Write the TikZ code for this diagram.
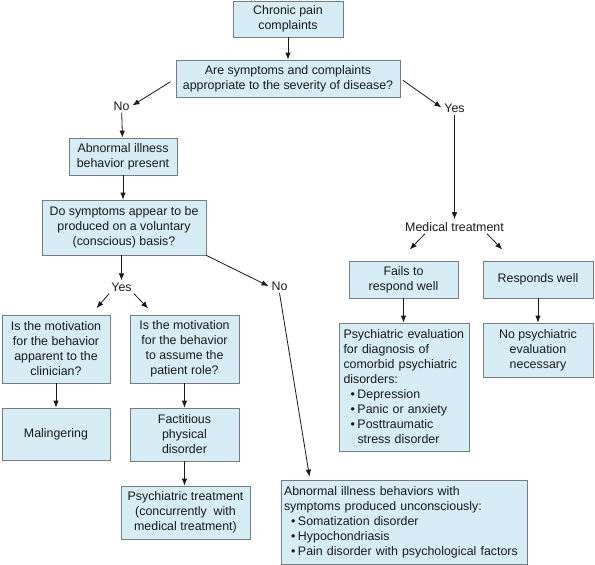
\documentclass[tikz,border=0pt]{standalone}
\usepackage{fontspec}
\setmainfont{Liberation Sans}
\usetikzlibrary{arrows.meta,positioning,calc}
\definecolor{boxfill}{RGB}{214,237,246}
\definecolor{boxline}{RGB}{118,124,130}
\definecolor{ink}{RGB}{25,25,25}
\newcommand{\itm}[1]{\hspace*{7pt}\makebox[7pt][l]{\textbullet}#1}
\newcommand{\cont}[1]{\hspace*{14pt}#1}
\hyphenpenalty=10000

\begin{document}
\begin{tikzpicture}[x=1pt, y=-1pt, font=\fontsize{12.4}{15}\selectfont, text=ink,
box/.style={draw=boxline, fill=boxfill, line width=0.8pt, align=center, inner sep=3pt},
lbl/.style={inner sep=2pt},
arrow/.style={-{Latex[length=7pt,width=5.5pt]}, line width=0.8pt, ink}]
\useasboundingbox (0,0) rectangle (595,565);
% top
\node[box, minimum width=110pt, minimum height=36pt] (cpc) at (288,19) {Chronic pain\\complaints};
\node[box, minimum width=224pt, minimum height=37pt] (appr) at (288,78.5) {Are symptoms and complaints\\appropriate to the severity of disease?};
\node[lbl] (no1) at (121.5,106) {No};
\node[lbl] (yes1) at (454.5,108) {Yes};
% left branch
\node[box, minimum width=108pt, minimum height=37pt] (abn) at (123,156.5) {Abnormal illness\\behavior present};
\node[box, minimum width=164pt, minimum height=55pt] (vol) at (124,227.5) {Do symptoms appear to be\\produced on a voluntary\\(conscious) basis?};
\node[lbl] (yes2) at (121.5,287) {Yes};
\node[lbl] (no2) at (279.5,286.5) {No};
\node[box, minimum width=108pt, minimum height=68pt] (mot1) at (56,349) {Is the motivation\\for the behavior\\apparent to the\\clinician?};
\node[box, minimum width=109pt, minimum height=68pt] (mot2) at (184.5,349) {Is the motivation\\for the behavior\\to assume the\\patient role?};
\node[box, minimum width=108pt, minimum height=52pt] (mal) at (56,434) {Malingering};
\node[box, minimum width=109pt, minimum height=53pt] (fact) at (184.5,434.5) {Factitious\\physical\\disorder};
\node[box, minimum width=129pt, minimum height=53pt] (psytr) at (185.5,512.5) {Psychiatric treatment\\(concurrently\ \ with\\medical treatment)};
\node[box, align=left, inner xsep=3pt, text width=240pt, minimum height=84pt] (unc) at (404,522) {Abnormal illness behaviors with\\symptoms produced unconsciously:\\\itm{Somatization disorder}\\\itm{Hypochondriasis}\\\itm{Pain disorder with psychological factors}};
% right branch
\node[lbl] (med) at (454.5,227) {Medical treatment};
\node[box, minimum width=109pt, minimum height=37pt] (fail) at (403.5,279.5) {Fails to\\respond well};
\node[box, minimum width=110pt, minimum height=37pt] (resp) at (538,279.5) {Responds well};
\node[box, align=left, inner xsep=4.5pt, text width=121pt, minimum height=128pt] (psyev) at (404,387) {Psychiatric evaluation\\for diagnosis of\\comorbid psychiatric\\disorders:\\\itm{Depression}\\\itm{Panic or anxiety}\\\itm{Posttraumatic}\\\cont{stress disorder}};
\node[box, minimum width=110pt, minimum height=54pt] (nopsy) at (538,350) {No psychiatric\\evaluation\\necessary};
% connectors
\draw[arrow] (cpc) -- (appr);
\draw[arrow, shorten <=6pt, shorten >=1pt] (appr.west) -- (no1.east);
\draw[arrow] (no1) -- (abn);
\draw[arrow] (abn) -- (abn.south |- vol.north);
\draw[arrow] (vol.south -| yes2) -- (yes2);
\draw[arrow, shorten >=8.5pt] (yes2.south west) -- ([xshift=35pt]mot1.north);
\draw[arrow, shorten >=8.5pt] (yes2.south east) -- ([xshift=-30.5pt]mot2.north);
\draw[arrow, shorten >=1pt] (vol.south east) -- (no2.west);
\draw[arrow, shorten >=3pt] (no2.south) -- ([xshift=-94pt]unc.north);
\draw[arrow] (mot1) -- (mal);
\draw[arrow] (mot2) -- (fact);
\draw[arrow] (fact.south) -- (fact.south |- psytr.north);
\draw[arrow, shorten <=3pt, shorten >=1pt] (appr.east) -- (yes1.west);
\draw[arrow, shorten >=1pt] (yes1) -- (med);
\draw[arrow, shorten >=15.5pt] ([xshift=-29.5pt]med.south) -- ([xshift=-4.5pt]fail.north);
\draw[arrow, shorten >=15.5pt] ([xshift=32.5pt]med.south) -- ([xshift=-25pt]resp.north);
\draw[arrow] (fail) -- (fail.south |- psyev.north);
\draw[arrow] (resp) -- (nopsy);
\end{tikzpicture}
\end{document}
